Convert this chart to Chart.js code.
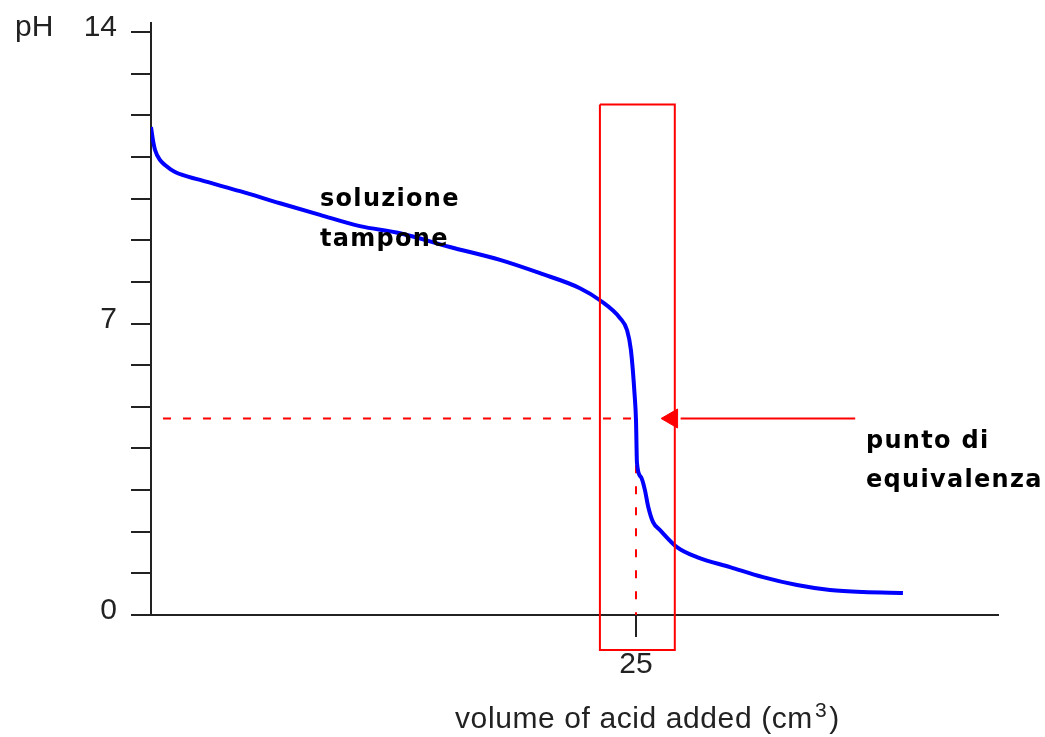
<!DOCTYPE html>
<html>
<head>
<meta charset="utf-8">
<script src="https://cdn.jsdelivr.net/npm/chart.js@4.4.1/dist/chart.umd.min.js"></script>
<style>
  html, body { margin: 0; padding: 0; background: #ffffff; }
  #wrap { width: 1045px; height: 737px; }
</style>
</head>
<body>
<div id="wrap"><canvas id="chart" width="1045" height="737"></canvas></div>
<script>
// Titration curve: volume of acid added (cm3) against pH
const volume = [0, 0.1, 0.21, 0.46, 0.72, 1.24, 2.53, 4.59, 6.65, 8.71, 10.77, 12.84, 15.41, 17.99,
  20.05, 22.11, 23.14, 24.18, 24.54, 24.74, 24.93, 25.0, 25.05, 25.26, 25.46, 25.62, 25.88, 26.24,
  27.11, 28.14, 29.85, 31.55, 33.3, 35.0, 36.7, 38.76];
const pH = [11.72, 11.41, 11.17, 10.93, 10.81, 10.64, 10.45, 10.18, 9.89, 9.61, 9.34, 9.17, 8.84, 8.53,
  8.21, 7.85, 7.56, 7.13, 6.84, 6.36, 5.28, 4.68, 3.65, 3.31, 3.00, 2.62, 2.23, 2.04,
  1.63, 1.39, 1.15, 0.91, 0.72, 0.60, 0.55, 0.53];

// Equivalence point and guide lines
const equivalenceVolume = 25;
const equivalencePH = 4.72;
const guideStartVolume = 0.62;
const guideBottomPH = 3.6;

// Highlight box around the steep part of the curve
const boxVolume = [23.14, 27.0];
const boxPH = [12.26, -0.84];

// Arrow pointing at the equivalence point
const arrowVolume = [27.3, 36.3];
const arrowHeadVolume = 26.86;

// Axes
const xMin = 0, xMax = 43.66;
const yMin = 0, yMax = 14.22;
const xTickValues = [25];
const yTickValues = [0, 1, 2, 3, 4, 5, 6, 7, 8, 9, 10, 11, 12, 13, 14];
const yLabelledTicks = [0, 7, 14];

const xTitle = 'volume of acid added (cm';
const xTitleSup = '3';
const yTitle = 'pH';
const bufferLabel = ['soluzione', 'tampone'];
const equivalenceLabel = ['punto di', 'equivalenza'];

const RED = '#ff0000';
const BLUE = '#0000ff';
const INK = '#222222';
const SANS = '"Liberation Sans", Arial, sans-serif';
const BOLD = '"DejaVu Sans", Verdana, sans-serif';

const curve = volume.map((v, i) => ({ x: v, y: pH[i] }));

const textPlugin = {
  id: 'chartText',
  afterDraw(chart) {
    const ctx = chart.ctx;
    ctx.save();
    ctx.fillStyle = INK;
    ctx.textBaseline = 'alphabetic';
    ctx.textAlign = 'left';

    // y axis name
    ctx.font = '30px ' + SANS;
    ctx.fillText(yTitle, 15, 36);

    // x axis name with superscript
    ctx.font = '30px ' + SANS;
    ctx.letterSpacing = '0.6px';
    let x = 455;
    ctx.fillText(xTitle, x, 728);
    x += ctx.measureText(xTitle).width + 2;
    ctx.font = '21px ' + SANS;
    ctx.fillText(xTitleSup, x, 717);
    x += ctx.measureText(xTitleSup).width + 2;
    ctx.font = '30px ' + SANS;
    ctx.fillText(')', x, 728);

    // annotations
    ctx.fillStyle = '#000000';
    ctx.font = 'bold 24px ' + BOLD;
    ctx.letterSpacing = '1.3px';
    ctx.fillText(bufferLabel[0], 320, 206);
    ctx.fillText(bufferLabel[1], 320, 246);
    ctx.fillText(equivalenceLabel[0], 866, 448);
    ctx.fillText(equivalenceLabel[1], 866, 487);
    ctx.restore();
  }
};

new Chart(document.getElementById('chart'), {
  type: 'line',
  data: {
    datasets: [
      {
        // highlight box
        data: [
          { x: boxVolume[0], y: boxPH[0] }, { x: boxVolume[1], y: boxPH[0] },
          { x: boxVolume[1], y: boxPH[1] }, { x: boxVolume[0], y: boxPH[1] },
          { x: boxVolume[0], y: boxPH[0] }
        ],
        borderColor: RED, borderWidth: 2, pointRadius: 0, fill: false,
        tension: 0, clip: false, order: 0
      },
      {
        // arrow shaft
        data: [{ x: arrowVolume[0], y: equivalencePH }, { x: arrowVolume[1], y: equivalencePH }],
        borderColor: RED, borderWidth: 2, pointRadius: 0, order: 0
      },
      {
        // arrow head
        data: [{ x: arrowHeadVolume, y: equivalencePH }],
        showLine: false, pointStyle: 'triangle', rotation: 270, pointRadius: 11,
        pointBackgroundColor: RED, pointBorderColor: RED, pointBorderWidth: 1, order: 0
      },
      {
        // titration curve
        data: curve,
        borderColor: BLUE, borderWidth: 4, pointRadius: 0,
        cubicInterpolationMode: 'monotone',
        borderJoinStyle: 'round', order: 1
      },
      {
        // horizontal guide to the equivalence point
        data: [{ x: guideStartVolume, y: equivalencePH }, { x: equivalenceVolume, y: equivalencePH }],
        borderColor: RED, borderWidth: 2, borderDash: [8, 12], pointRadius: 0, order: 2
      },
      {
        // vertical guide down to the volume axis
        data: [{ x: equivalenceVolume, y: guideBottomPH }, { x: equivalenceVolume, y: 0 }],
        borderColor: RED, borderWidth: 2, borderDash: [8, 13], pointRadius: 0, order: 2
      }
    ]
  },
  options: {
    responsive: false,
    animation: false,
    events: [],
    layout: { padding: { left: 0, top: 23, right: 47, bottom: 0 } },
    plugins: { legend: { display: false }, tooltip: { enabled: false } },
    scales: {
      x: {
        type: 'linear',
        min: xMin, max: xMax,
        afterBuildTicks: s => { s.ticks = xTickValues.map(v => ({ value: v })); },
        afterFit: s => { s.height = 122; s.paddingLeft = 0; s.paddingRight = 0; },
        border: { display: true, color: INK, width: 2 },
        grid: { drawOnChartArea: false, drawTicks: true, tickLength: 22, color: INK, lineWidth: 2 },
        ticks: {
          autoSkip: false, maxRotation: 0, padding: 10, color: INK,
          font: { family: SANS, size: 30 },
          callback: v => String(v)
        }
      },
      y: {
        type: 'linear',
        min: yMin, max: yMax,
        afterBuildTicks: s => { s.ticks = yTickValues.map(v => ({ value: v })); },
        afterFit: s => { s.width = 151; s.paddingTop = 0; s.paddingBottom = 0; },
        border: { display: true, color: INK, width: 2 },
        grid: { drawOnChartArea: false, drawTicks: true, tickLength: 20, color: INK, lineWidth: 2 },
        ticks: {
          autoSkip: false, padding: 14, color: INK, labelOffset: -4,
          font: { family: SANS, size: 30 },
          callback: v => (yLabelledTicks.includes(v) ? String(v) : '')
        }
      }
    }
  },
  plugins: [textPlugin]
});
</script>
</body>
</html>
